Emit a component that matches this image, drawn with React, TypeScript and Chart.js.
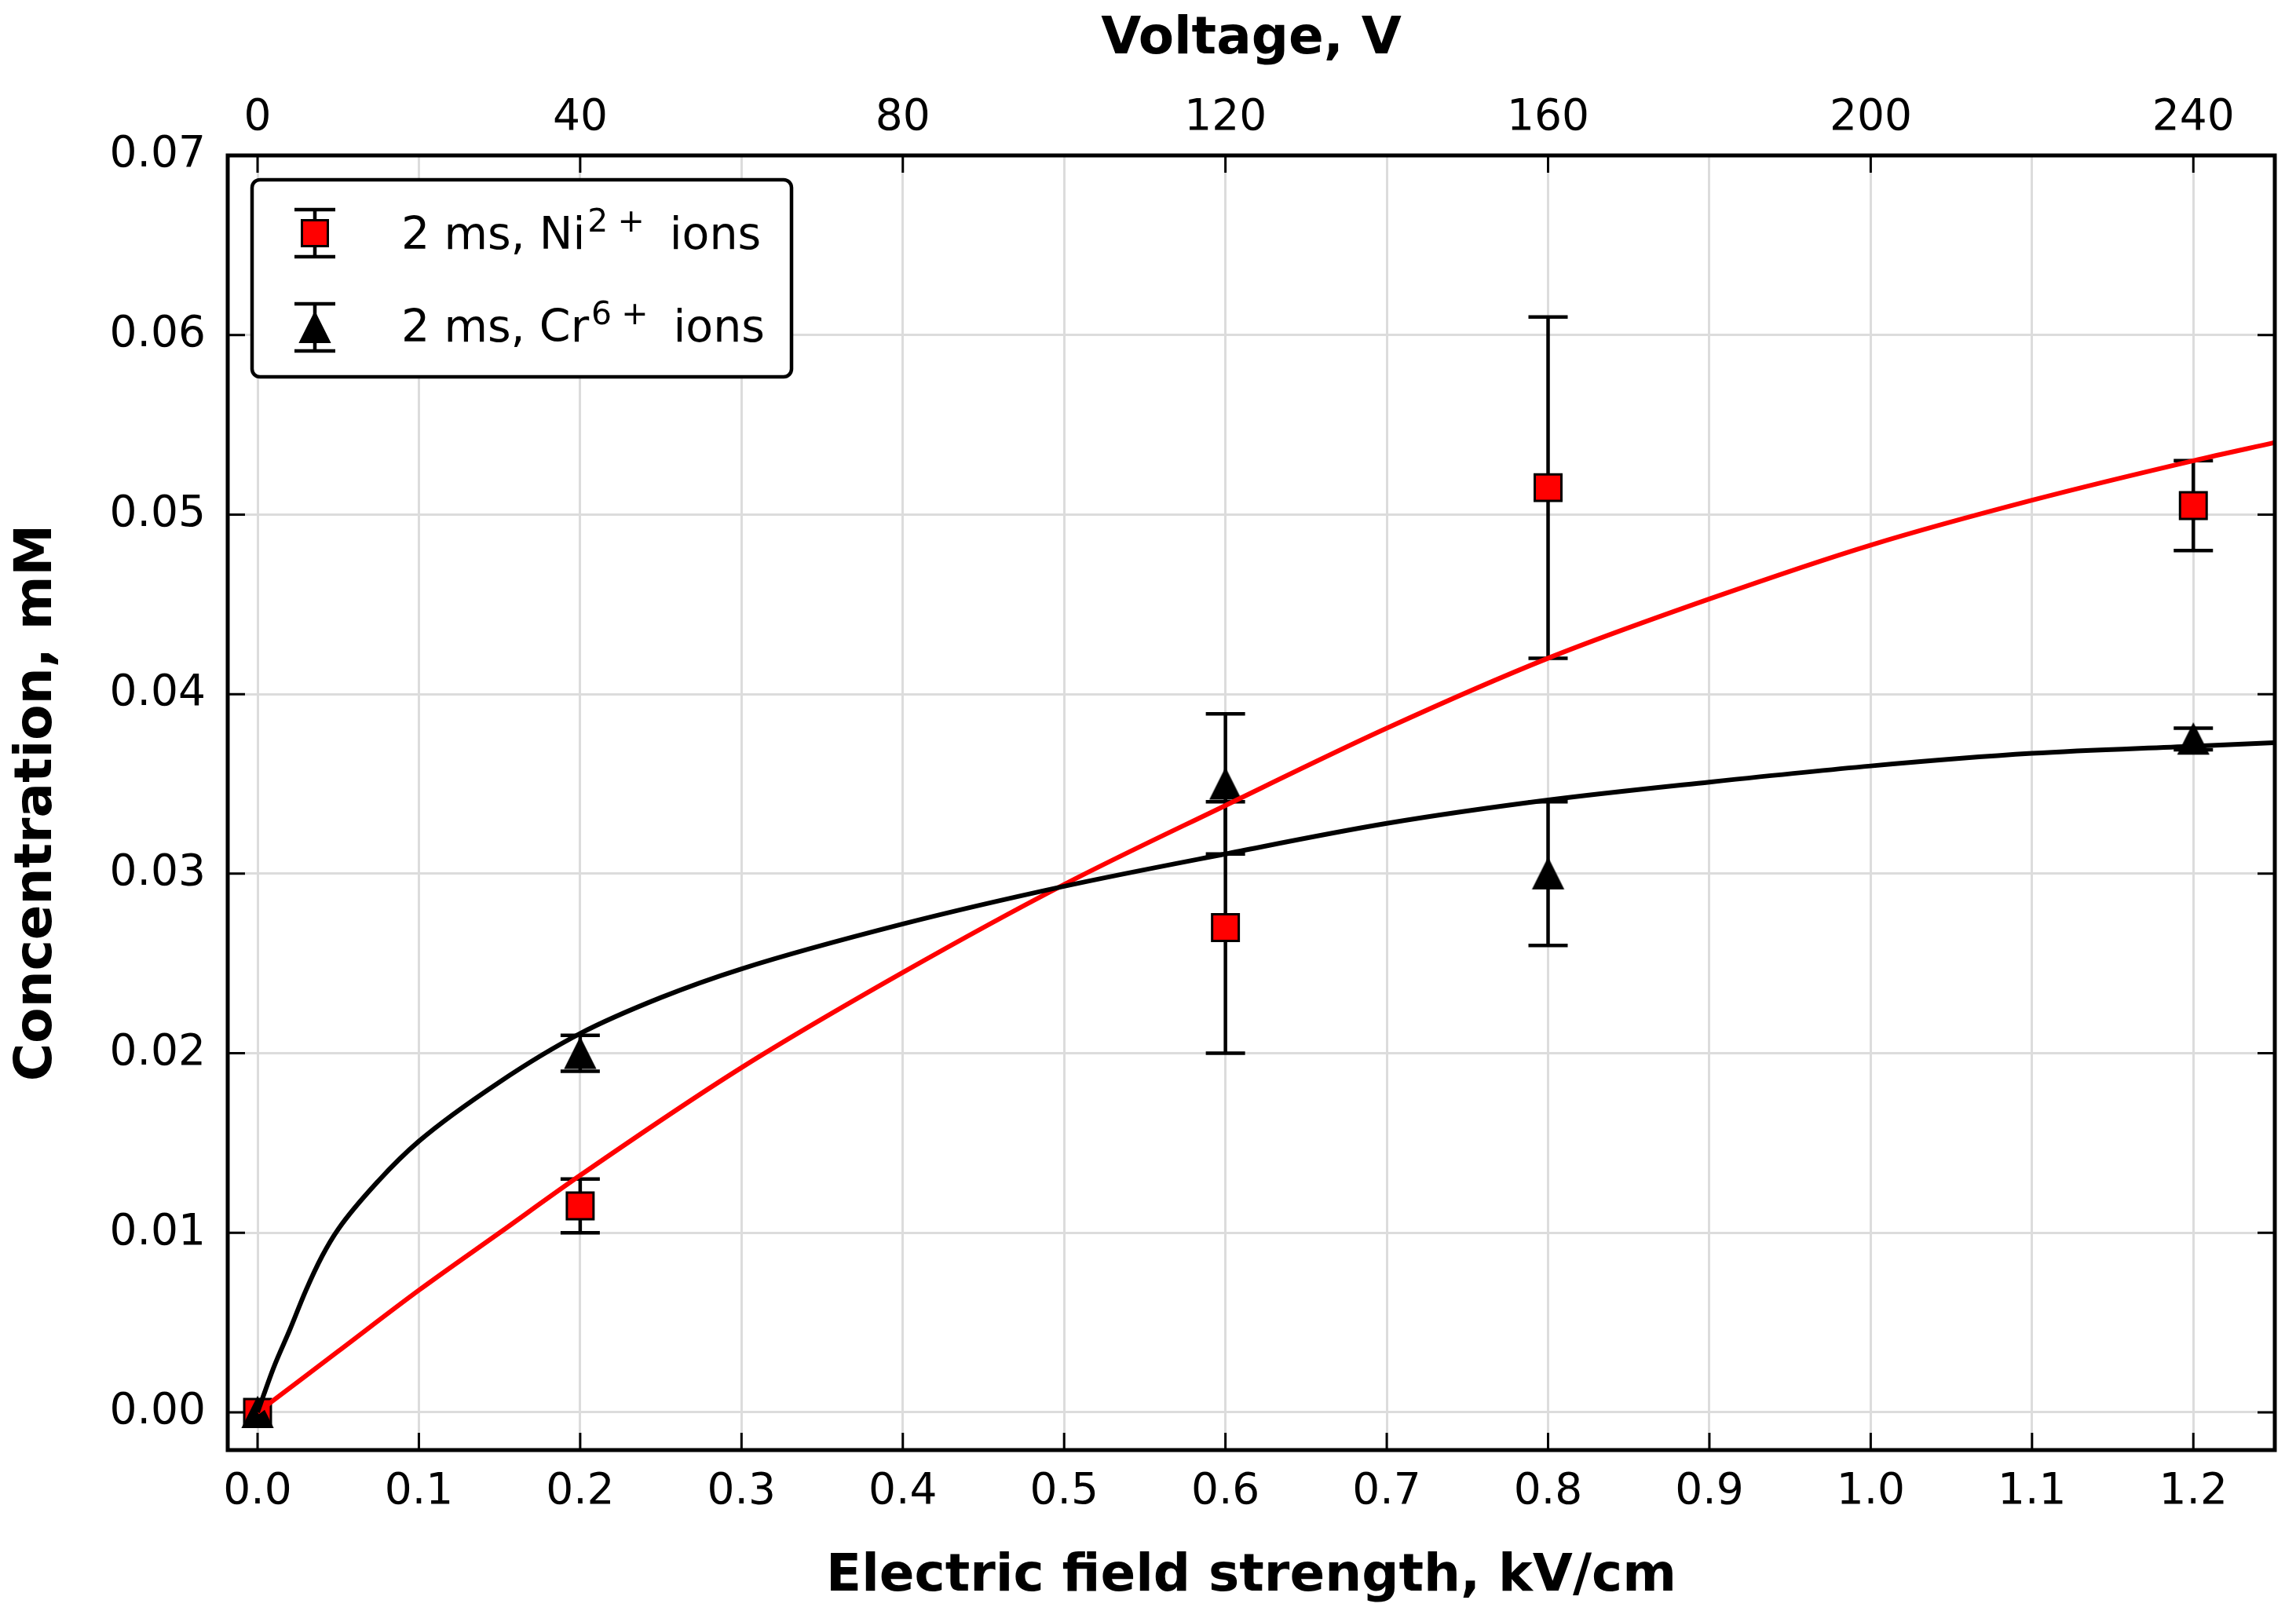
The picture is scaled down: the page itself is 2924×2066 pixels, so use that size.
import React, { useEffect, useRef } from "react";
import { Chart, registerables } from "chart.js";

Chart.register(...registerables);

// ---------- data ----------
const X_TICKS = [0, 0.1, 0.2, 0.3, 0.4, 0.5, 0.6, 0.7, 0.8, 0.9, 1.0, 1.1, 1.2];
const Y_TICKS = [0, 0.01, 0.02, 0.03, 0.04, 0.05, 0.06, 0.07];
const VOLTAGE_TICKS = [0, 40, 80, 120, 160, 200, 240];
const FIELD_MIN = -0.0185;
const FIELD_MAX = 1.2505;
const CONC_MIN = -0.0021;
const CONC_MAX = 0.07;
const VOLTS_PER_KV_CM = 200;

const NI_X = [0, 0.2, 0.6, 0.8, 1.2];
const NI_Y = [0, 0.0115, 0.027, 0.0515, 0.0505];
const NI_ERR = [0, 0.0015, 0.007, 0.0095, 0.0025];

const CR_X = [0, 0.2, 0.6, 0.8, 1.2];
const CR_Y = [0, 0.02, 0.035, 0.03, 0.0375];
const CR_ERR = [0, 0.001, 0.0039, 0.004, 0.0006];

const NI_FIT_X = [0, 0.05, 0.1, 0.15, 0.2, 0.3, 0.4, 0.5, 0.6, 0.7, 0.8, 0.9, 1.0, 1.1, 1.2, 1.25];
const NI_FIT_Y = [0, 0.0034, 0.0068, 0.01, 0.0132, 0.0192, 0.0245, 0.0294, 0.0338, 0.0381, 0.042, 0.0453, 0.0483, 0.0508, 0.053, 0.054];

const CR_FIT_X = [0, 0.01, 0.02, 0.03, 0.04, 0.05, 0.075, 0.1, 0.15, 0.2, 0.25, 0.3, 0.4, 0.5, 0.6, 0.7, 0.8, 0.9, 1.0, 1.1, 1.2, 1.25];
const CR_FIT_Y = [0, 0.0025, 0.0046, 0.0068, 0.0087, 0.0102, 0.0129, 0.0151, 0.0184, 0.0211, 0.0231, 0.0247, 0.0272, 0.0293, 0.0311, 0.0328, 0.0341, 0.0351, 0.036, 0.0367, 0.0371, 0.0373];

const LEGEND_BASE = ["2 ms, Ni", "2 ms, Cr"];
const LEGEND_SUP = ["2", "6"];
const LEGEND_TAIL = "ions";

// ---------- styles ----------
const FONT = '"DejaVu Sans", "Liberation Sans", sans-serif';
const RED = "#ff0000";
const GRID = "#dcdcdc";
const CAP = 25;
const TICK_LEN = 22;

function makeTriangle(): HTMLCanvasElement {
  const c = document.createElement("canvas");
  c.width = 44;
  c.height = 44;
  const g = c.getContext("2d")!;
  g.beginPath();
  g.moveTo(22, 3);
  g.lineTo(3, 41);
  g.lineTo(41, 41);
  g.closePath();
  g.fillStyle = "#000";
  g.fill();
  g.lineWidth = 2;
  g.strokeStyle = "#000";
  g.stroke();
  return c;
}

const ERROR_SERIES = [
  { x: NI_X, y: NI_Y, err: NI_ERR },
  { x: CR_X, y: CR_Y, err: CR_ERR },
];

const errorBarPlugin = {
  id: "errorBars",
  beforeDatasetsDraw(chart: any) {
    const { ctx, chartArea: a, scales } = chart;
    const xs = scales.x;
    const ys = scales.y;
    ctx.save();
    ctx.beginPath();
    ctx.rect(a.left, a.top, a.right - a.left, a.bottom - a.top);
    ctx.clip();
    ctx.strokeStyle = "#000";
    ctx.lineWidth = 4.5;
    for (const s of ERROR_SERIES) {
      s.x.forEach((xv: number, i: number) => {
        const e = s.err[i];
        if (!e) return;
        const px = xs.getPixelForValue(xv);
        const top = ys.getPixelForValue(s.y[i] + e);
        const bot = ys.getPixelForValue(s.y[i] - e);
        ctx.beginPath();
        ctx.moveTo(px, top);
        ctx.lineTo(px, bot);
        ctx.moveTo(px - CAP, top);
        ctx.lineTo(px + CAP, top);
        ctx.moveTo(px - CAP, bot);
        ctx.lineTo(px + CAP, bot);
        ctx.stroke();
      });
    }
    ctx.restore();
  },
};

const frameTicksPlugin = {
  id: "frameTicks",
  afterDatasetsDraw(chart: any) {
    const { ctx, chartArea: a, scales } = chart;
    ctx.save();
    ctx.strokeStyle = "#000";
    ctx.lineWidth = 3;
    ctx.beginPath();
    for (const t of scales.x.ticks) {
      const p = scales.x.getPixelForValue(t.value);
      ctx.moveTo(p, a.bottom);
      ctx.lineTo(p, a.bottom - TICK_LEN);
    }
    for (const t of scales.x2.ticks) {
      const p = scales.x2.getPixelForValue(t.value);
      ctx.moveTo(p, a.top);
      ctx.lineTo(p, a.top + TICK_LEN);
    }
    for (const t of scales.y.ticks) {
      const p = scales.y.getPixelForValue(t.value);
      ctx.moveTo(a.left, p);
      ctx.lineTo(a.left + TICK_LEN, p);
      ctx.moveTo(a.right, p);
      ctx.lineTo(a.right - TICK_LEN, p);
    }
    ctx.stroke();
    ctx.lineWidth = 5;
    ctx.strokeRect(a.left, a.top, a.right - a.left, a.bottom - a.top);
    ctx.restore();
  },
};

function makeLegendPlugin(tri: HTMLCanvasElement) {
  return {
    id: "boxLegend",
    afterDraw(chart: any) {
      const { ctx, chartArea: a } = chart;
      const bx = a.left + 31;
      const by = a.top + 31;
      const bw = 687;
      const bh = 251;
      ctx.save();
      ctx.beginPath();
      (ctx as any).roundRect(bx, by, bw, bh, 10);
      ctx.fillStyle = "#fff";
      ctx.fill();
      ctx.lineWidth = 4.5;
      ctx.strokeStyle = "#000";
      ctx.stroke();

      for (let i = 0; i < 2; i++) {
        const gx = bx + 80;
        const gy = by + 68 + i * 120;
        ctx.strokeStyle = "#000";
        ctx.lineWidth = 4.5;
        ctx.beginPath();
        ctx.moveTo(gx, gy - 30);
        ctx.lineTo(gx, gy + 30);
        ctx.moveTo(gx - 26, gy - 30);
        ctx.lineTo(gx + 26, gy - 30);
        ctx.moveTo(gx - 26, gy + 30);
        ctx.lineTo(gx + 26, gy + 30);
        ctx.stroke();
        if (i === 0) {
          ctx.fillStyle = RED;
          ctx.fillRect(gx - 16.5, gy - 16.5, 33, 33);
          ctx.lineWidth = 3;
          ctx.strokeRect(gx - 16.5, gy - 16.5, 33, 33);
        } else {
          ctx.drawImage(tri, gx - tri.width / 2, gy - tri.height / 2);
        }

        const tx = bx + 190;
        const ty = by + 88 + i * 118;
        ctx.fillStyle = "#000";
        ctx.textAlign = "left";
        ctx.textBaseline = "alphabetic";
        ctx.font = `57px ${FONT}`;
        ctx.fillText(LEGEND_BASE[i], tx, ty);
        let x = tx + ctx.measureText(LEGEND_BASE[i]).width + 3;
        ctx.font = `41px ${FONT}`;
        ctx.fillText(LEGEND_SUP[i], x, ty - 22);
        x += ctx.measureText(LEGEND_SUP[i]).width + 12;
        ctx.fillText("+", x, ty - 22);
        x += ctx.measureText("+").width + 32;
        ctx.font = `57px ${FONT}`;
        ctx.fillText(LEGEND_TAIL, x, ty);
      }
      ctx.restore();
    },
  };
}

const tickFont = { family: FONT, size: 55 };
const titleFont = { family: FONT, size: 66, weight: "bold" as const };

export default function App() {
  const canvasRef = useRef<HTMLCanvasElement | null>(null);

  useEffect(() => {
    if (!canvasRef.current) return;
    const tri = makeTriangle();
    const chart = new Chart(canvasRef.current, {
      type: "scatter",
      data: {
        datasets: [
          {
            label: "Cr fit",
            data: CR_FIT_X.map((x, i) => ({ x, y: CR_FIT_Y[i] })),
            showLine: true,
            borderColor: "#000",
            borderWidth: 6,
            pointRadius: 0,
            cubicInterpolationMode: "monotone",
            order: 1,
          } as any,
          {
            label: "Ni fit",
            data: NI_FIT_X.map((x, i) => ({ x, y: NI_FIT_Y[i] })),
            showLine: true,
            borderColor: RED,
            borderWidth: 6,
            pointRadius: 0,
            cubicInterpolationMode: "monotone",
            order: 2,
          } as any,
          {
            label: "2 ms, Cr6+ ions",
            data: CR_X.map((x, i) => ({ x, y: CR_Y[i] })),
            pointStyle: tri,
            pointRadius: 20,
            showLine: false,
            order: 3,
          } as any,
          {
            label: "2 ms, Ni2+ ions",
            data: NI_X.map((x, i) => ({ x, y: NI_Y[i] })),
            pointStyle: "rect",
            pointRadius: 24,
            backgroundColor: RED,
            borderColor: "#000",
            borderWidth: 3,
            showLine: false,
            order: 4,
          } as any,
        ],
      },
      options: {
        responsive: false,
        animation: false,
        devicePixelRatio: 1,
        events: [],
        layout: { padding: 0 },
        plugins: {
          legend: { display: false },
          tooltip: { enabled: false },
        },
        scales: {
          x: {
            type: "linear",
            position: "bottom",
            min: FIELD_MIN,
            max: FIELD_MAX,
            afterBuildTicks: (s: any) => {
              s.ticks = X_TICKS.map((value) => ({ value }));
            },
            afterFit: (s: any) => {
              s.height = 219;
            },
            grid: { color: GRID, lineWidth: 3, drawTicks: false },
            border: { display: false },
            ticks: {
              padding: 21,
              font: tickFont,
              color: "#000",
              maxRotation: 0,
              autoSkip: false,
              callback: (v: any) => Number(v).toFixed(1),
            },
            title: {
              display: true,
              text: "Electric field strength, kV/cm",
              font: titleFont,
              color: "#000",
              padding: { top: 0, bottom: 18 },
            },
          },
          x2: {
            type: "linear",
            position: "top",
            min: FIELD_MIN * VOLTS_PER_KV_CM,
            max: FIELD_MAX * VOLTS_PER_KV_CM,
            afterBuildTicks: (s: any) => {
              s.ticks = VOLTAGE_TICKS.map((value) => ({ value }));
            },
            afterFit: (s: any) => {
              s.height = 198;
            },
            grid: { display: false, drawTicks: false },
            border: { display: false },
            ticks: {
              padding: 14,
              font: tickFont,
              color: "#000",
              maxRotation: 0,
              autoSkip: false,
              callback: (v: any) => String(Math.round(Number(v))),
            },
            title: {
              display: true,
              text: "Voltage, V",
              font: titleFont,
              color: "#000",
              padding: { top: 11, bottom: 0 },
            },
          },
          y: {
            type: "linear",
            position: "left",
            min: CONC_MIN,
            max: CONC_MAX,
            afterBuildTicks: (s: any) => {
              s.ticks = Y_TICKS.map((value) => ({ value }));
            },
            afterFit: (s: any) => {
              s.width = 290;
            },
            grid: { color: GRID, lineWidth: 3, drawTicks: false },
            border: { display: false },
            ticks: {
              padding: 28,
              font: tickFont,
              color: "#000",
              autoSkip: false,
              callback: (v: any) => Number(v).toFixed(2),
            },
            title: {
              display: true,
              text: "Concentration, mM",
              font: titleFont,
              color: "#000",
              padding: { top: 8, bottom: 0 },
            },
          },
          y2: {
            type: "linear",
            position: "right",
            min: CONC_MIN,
            max: CONC_MAX,
            afterFit: (s: any) => {
              s.width = 20;
            },
            grid: { display: false, drawTicks: false },
            border: { display: false },
            ticks: { display: false },
          },
        },
      } as any,
      plugins: [errorBarPlugin, frameTicksPlugin, makeLegendPlugin(tri)],
    });
    return () => chart.destroy();
  }, []);

  return (
    <div
      style={{
        position: "fixed",
        left: 0,
        top: 0,
        width: 2924,
        height: 2066,
        background: "#fff",
      }}
    >
      <canvas
        ref={canvasRef}
        width={2924}
        height={2066}
        style={{ display: "block", width: 2924, height: 2066 }}
      />
    </div>
  );
}
